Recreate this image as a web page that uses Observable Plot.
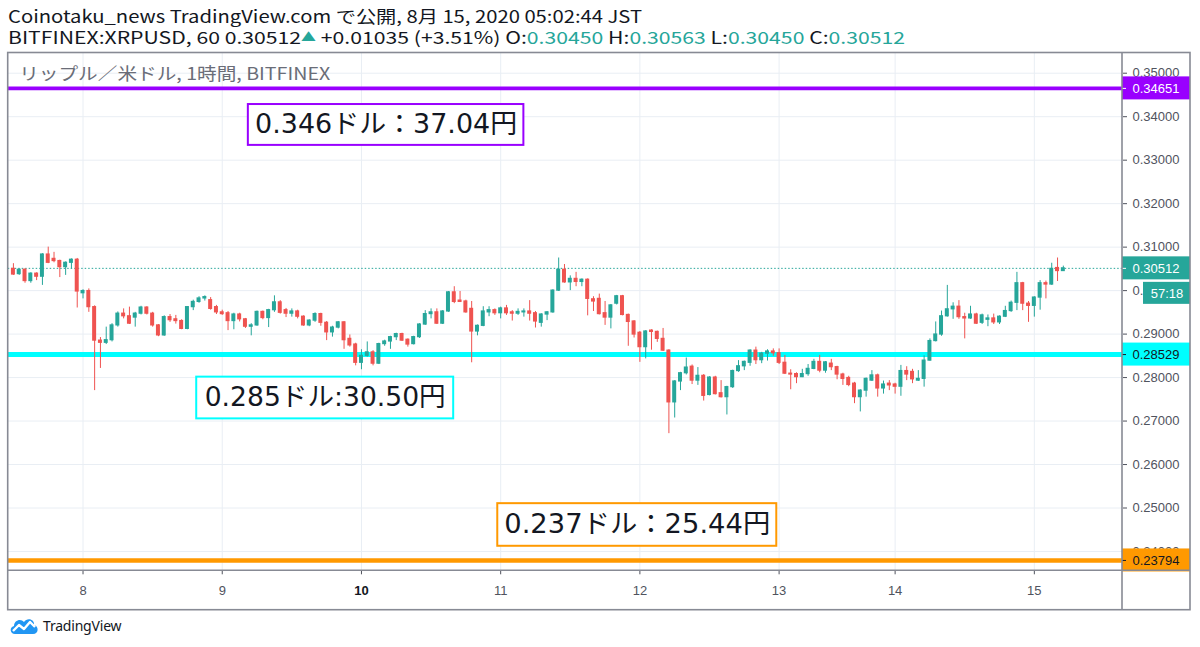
<!DOCTYPE html>
<html>
<head>
<meta charset="utf-8">
<script src="https://cdn.jsdelivr.net/npm/d3@7"></script>
<script src="https://cdn.jsdelivr.net/npm/@observablehq/plot@0.6"></script>
<style>
  html, body { margin: 0; padding: 0; background: #ffffff; }
  body { width: 1200px; height: 647px; overflow: hidden; position: relative;
         font-family: "Noto Sans CJK JP", "Noto Sans", sans-serif; color: #131722; }
  .hdr { position: absolute; left: 8px; white-space: nowrap; font-size: 17px; line-height: 17px;
         transform-origin: 0 50%; display: inline-block; }
  .g { color: #26a69a; }
  .tri { color: #26a69a; font-size: 12px; vertical-align: 2px; }
  #chart { position: absolute; left: 0; top: 50px; }
  #footer { position: absolute; left: 8px; top: 615px; display: flex; align-items: center; }
  #footer span { font-family: "Noto Sans", sans-serif; font-size: 14px; color: #131722; margin-left: 3px; letter-spacing: -0.2px; }
</style>
</head>
<body>
<div id="h1" class="hdr" style="top:7px"></div>
<div id="h2" class="hdr" style="top:28px"></div>
<div id="chart"></div>
<div id="footer">
  <svg width="32" height="20" viewBox="0 0 32 20">
    <path d="M7 19 C2 19 1 12 6 11 C6 5 13 3 16 7 C19 2 27 4 26 10 C31 11 31 19 25 19 Z" fill="#2196f3"/>
    <polyline points="5,16 11,10 16,14 22,7 27,12" stroke="#ffffff" stroke-width="2.4" fill="none" stroke-linejoin="round"/>
  </svg>
  <span>TradingView</span>
</div>
<script>
// ---------- data (hourly candles, BITFINEX:XRPUSD, JST) ----------
const opens = [
0.3050,0.3038,0.3048,0.3022,0.3039,0.3032,0.3083,0.3073,0.3068,0.3054,0.3064,0.3071,0.2994,0.2999,0.2962,0.2885,0.2880,0.2886,0.2920,0.2947,
0.2941,0.2938,0.2947,0.2961,0.2947,0.2920,0.2897,0.2939,0.2934,0.2930,0.2912,0.2962,0.2974,0.2982,0.2978,0.2962,0.2950,0.2948,0.2930,0.2945,
0.2934,0.2917,0.2920,0.2951,0.2937,0.2955,0.2973,0.2955,0.2947,0.2952,0.2940,0.2920,0.2931,0.2946,0.2926,0.2904,0.2915,0.2927,0.2889,0.2876,
0.2834,0.2850,0.2858,0.2832,0.2877,0.2883,0.2893,0.2900,0.2887,0.2877,0.2893,0.2922,0.2946,0.2950,0.2924,0.2952,0.2996,0.2977,0.2975,0.2958,
0.2906,0.2919,0.2950,0.2955,0.2948,0.2959,0.2950,0.2947,0.2950,0.2952,0.2948,0.2926,0.2945,0.2950,0.3000,0.3048,0.3019,0.3027,0.3020,0.3025,
0.2980,0.2981,0.2948,0.2938,0.2970,0.2987,0.2944,0.2929,0.2903,0.2870,0.2908,0.2905,0.2889,0.2862,0.2743,0.2791,0.2810,0.2825,0.2793,0.2804,
0.2760,0.2800,0.2764,0.2755,0.2778,0.2815,0.2826,0.2834,0.2862,0.2840,0.2855,0.2860,0.2856,0.2834,0.2809,0.2808,0.2801,0.2808,0.2820,0.2836,
0.2816,0.2832,0.2824,0.2807,0.2799,0.2786,0.2755,0.2770,0.2793,0.2805,0.2775,0.2786,0.2784,0.2779,0.2815,0.2813,0.2793,0.2797,0.2839,0.2884,
0.2899,0.2941,0.2957,0.2963,0.2939,0.2936,0.2945,0.2926,0.2933,0.2936,0.2927,0.2940,0.2953,0.2972,0.3017,0.2970,0.2965,0.2984,0.3017,0.3014,
0.3052,0.30450];
const highs = [
0.3062,0.3050,0.3050,0.3041,0.3041,0.3085,0.3100,0.3088,0.3070,0.3066,0.3073,0.3074,0.3002,0.3004,0.2965,0.2892,0.2916,0.2924,0.2951,0.2958,
0.2962,0.2950,0.2964,0.2963,0.2950,0.2922,0.2942,0.2945,0.2943,0.2933,0.2963,0.2978,0.2986,0.2988,0.2984,0.2966,0.2955,0.2952,0.2948,0.2948,
0.2936,0.2924,0.2953,0.2953,0.2957,0.2988,0.2977,0.2959,0.2958,0.2955,0.2942,0.2933,0.2949,0.2948,0.2929,0.2918,0.2929,0.2929,0.2898,0.2879,
0.2864,0.2882,0.2862,0.2879,0.2886,0.2895,0.2902,0.2902,0.2889,0.2895,0.2924,0.2954,0.2958,0.2958,0.2954,0.2998,0.3009,0.2998,0.2978,0.2975,
0.2921,0.2963,0.2963,0.2958,0.2962,0.2966,0.2954,0.2958,0.2958,0.2977,0.2952,0.2947,0.2952,0.3002,0.3075,0.3060,0.3034,0.3042,0.3027,0.3027,
0.2986,0.2992,0.2975,0.2968,0.2989,0.2989,0.2946,0.2931,0.2906,0.2908,0.2910,0.2907,0.2913,0.2864,0.2793,0.2812,0.2845,0.2829,0.2823,0.2807,
0.2802,0.2803,0.2793,0.2780,0.2817,0.2839,0.2838,0.2864,0.2870,0.2858,0.2864,0.2866,0.2866,0.2851,0.2818,0.2811,0.2819,0.2830,0.2842,0.2851,
0.2837,0.2842,0.2826,0.2810,0.2803,0.2789,0.2772,0.2799,0.2816,0.2808,0.2792,0.2793,0.2787,0.2828,0.2825,0.2819,0.2816,0.2850,0.2889,0.2928,
0.2953,0.3012,0.2972,0.2977,0.2948,0.2964,0.2948,0.2946,0.2944,0.2946,0.2942,0.2964,0.2976,0.3042,0.3019,0.2975,0.2986,0.3023,0.3022,0.3063,
0.3075,0.30563];
const lows = [
0.3035,0.3035,0.3017,0.3017,0.3023,0.3012,0.3062,0.3064,0.3030,0.3035,0.3050,0.2960,0.2981,0.2950,0.2770,0.2821,0.2876,0.2882,0.2916,0.2935,
0.2922,0.2916,0.2944,0.2944,0.2916,0.2894,0.2895,0.2927,0.2923,0.2910,0.2910,0.2954,0.2971,0.2976,0.2955,0.2945,0.2943,0.2908,0.2910,0.2928,
0.2913,0.2896,0.2918,0.2933,0.2915,0.2950,0.2946,0.2938,0.2939,0.2935,0.2918,0.2917,0.2927,0.2918,0.2885,0.2893,0.2912,0.2865,0.2870,0.2827,
0.2818,0.2847,0.2827,0.2830,0.2872,0.2865,0.2885,0.2883,0.2870,0.2875,0.2890,0.2920,0.2935,0.2922,0.2922,0.2950,0.2970,0.2973,0.2948,0.2834,
0.2896,0.2917,0.2940,0.2943,0.2935,0.2943,0.2930,0.2943,0.2939,0.2930,0.2914,0.2916,0.2931,0.2948,0.2998,0.3017,0.3000,0.3009,0.3009,0.2942,
0.2952,0.2944,0.2920,0.2912,0.2967,0.2942,0.2872,0.2891,0.2835,0.2843,0.2863,0.2881,0.2860,0.2671,0.2707,0.2770,0.2806,0.2784,0.2782,0.2746,
0.2758,0.2760,0.2753,0.2714,0.2775,0.2812,0.2816,0.2826,0.2830,0.2832,0.2838,0.2849,0.2830,0.2807,0.2772,0.2786,0.2800,0.2803,0.2818,0.2811,
0.2810,0.2816,0.2795,0.2782,0.2779,0.2740,0.2721,0.2755,0.2791,0.2755,0.2762,0.2770,0.2762,0.2757,0.2793,0.2786,0.2791,0.2778,0.2838,0.2882,
0.2895,0.2939,0.2934,0.2934,0.2889,0.2934,0.2922,0.2922,0.2917,0.2922,0.2922,0.2938,0.2950,0.2954,0.2954,0.2927,0.2939,0.2955,0.2981,0.3012,
0.3021,0.30450];
const closes = [
0.3037,0.3048,0.3022,0.3039,0.3032,0.3083,0.3064,0.3068,0.3054,0.3064,0.3071,0.2998,0.2999,0.2962,0.2885,0.2880,0.2886,0.2920,0.2947,0.2941,
0.2924,0.2947,0.2961,0.2947,0.2920,0.2897,0.2939,0.2932,0.2930,0.2912,0.2962,0.2974,0.2982,0.2985,0.2958,0.2950,0.2946,0.2930,0.2945,0.2934,
0.2917,0.2920,0.2951,0.2937,0.2955,0.2973,0.2949,0.2947,0.2952,0.2940,0.2920,0.2931,0.2946,0.2926,0.2904,0.2915,0.2927,0.2886,0.2874,0.2834,
0.2850,0.2858,0.2832,0.2877,0.2883,0.2893,0.2900,0.2885,0.2876,0.2893,0.2922,0.2946,0.2950,0.2924,0.2952,0.2996,0.2974,0.2974,0.2950,0.2906,
0.2919,0.2952,0.2955,0.2948,0.2959,0.2948,0.2947,0.2951,0.2952,0.2947,0.2929,0.2945,0.2950,0.3000,0.3048,0.3019,0.3027,0.3020,0.3025,0.2981,
0.2975,0.2946,0.2938,0.2966,0.2987,0.2944,0.2928,0.2899,0.2870,0.2906,0.2905,0.2889,0.2862,0.2743,0.2791,0.2810,0.2823,0.2793,0.2804,0.2758,
0.2800,0.2762,0.2755,0.2778,0.2815,0.2826,0.2836,0.2862,0.2840,0.2855,0.2860,0.2856,0.2834,0.2809,0.2807,0.2801,0.2808,0.2820,0.2836,0.2816,
0.2835,0.2824,0.2807,0.2797,0.2783,0.2755,0.2770,0.2797,0.2805,0.2775,0.2784,0.2782,0.2779,0.2815,0.2807,0.2796,0.2797,0.2839,0.2884,0.2899,
0.2941,0.2957,0.2963,0.2939,0.2936,0.2945,0.2924,0.2943,0.2936,0.2927,0.2940,0.2953,0.2972,0.3017,0.2970,0.2965,0.2984,0.3017,0.3014,0.3050,
0.3045,0.30512];

const dayLabels = ["8", "9", "10", "11", "12", "13", "14", "15"];
const dayStartIndex = [12, 36, 60, 84, 108, 132, 152, 176];
const boldDay = "10";
const priceTicks = [0.24, 0.25, 0.26, 0.27, 0.28, 0.29, 0.30, 0.31, 0.32, 0.33, 0.34, 0.35];

const levelPrices = [0.34651, 0.28529, 0.23794];
const levelColors = ["#9900ff", "#00ffff", "#ff9900"];
const levelLabelTextColors = ["#ffffff", "#131722", "#131722"];

const noteTexts = ["0.346ドル：37.04円", "0.285ドル:30.50円", "0.237ドル：25.44円"];
const noteColors = ["#9900ff", "#00ffff", "#ff9900"];
const noteX1 = [40.5, 31.6, 83.5];
const noteX2 = [88.0, 75.9, 131.6];
const noteTop = [0.3428, 0.2801, 0.2510];
const noteBottom = [0.3334, 0.2705, 0.2412];

const symbolText = "BITFINEX:XRPUSD, 60";
const changeText = "+0.01035 (+3.51%)";
const publishText = "Coinotaku_news TradingView.com で公開, 8月 15, 2020 05:02:44 JST";
const paneTitle = "リップル／米ドル, 1時間, BITFINEX";
const countdownText = "57:18";

// ---------- styles ----------
const UP = "#26a69a", DOWN = "#ef5350";
const GRID = "#e9eef4", AXIS_TEXT = "#50535e", FRAME = "#878a94";
const levelWidths = [3.6, 5, 4.6];
const noteTextWidths = [262, 241, 266];

// ---------- header ----------
const n = closes.length - 1;
const f5 = d3.format(".5f");
document.getElementById("h1").textContent = publishText;
document.getElementById("h2").innerHTML =
  `${symbolText} ${f5(closes[n])}<span class="tri">▲</span> ${changeText} O:<span class="g">${f5(opens[n])}</span> H:<span class="g">${f5(highs[n])}</span> L:<span class="g">${f5(lows[n])}</span> C:<span class="g">${f5(closes[n])}</span>`;

// ---------- chart ----------
const candles = opens.map((o, i) => ({i, o, h: highs[i], l: lows[i], c: closes[i]}));
const isUp = d => d.c >= d.o;
const days = dayLabels.map((label, k) => ({label, i: dayStartIndex[k]}));
const levels = levelPrices.map((price, k) => ({price, color: levelColors[k], width: levelWidths[k], tcolor: levelLabelTextColors[k]}));
const notes = noteTexts.map((text, k) => ({text, color: noteColors[k], x1: noteX1[k], x2: noteX2[k], y1: noteTop[k], y2: noteBottom[k], w: noteTextWidths[k]}));
const lastPrice = closes[n];
const axisBoxes = [
  {price: levelPrices[0], fill: levelColors[0], tcolor: levelLabelTextColors[0]},
  {price: lastPrice, fill: UP, tcolor: "#ffffff"},
  {price: levelPrices[1], fill: levelColors[1], tcolor: levelLabelTextColors[1]},
  {price: levelPrices[2], fill: levelColors[2], tcolor: levelLabelTextColors[2]}
];

const W = 1200, H = 562;
const mTop = 2.5, mBottom = 41.7, mLeft = 7.7, mRight = 78;
const xDomain = [-0.9, 191.2];
const xMax = xDomain[1];

const chart = Plot.plot({
  width: W, height: H,
  marginTop: mTop, marginBottom: mBottom, marginLeft: mLeft, marginRight: mRight,
  x: {domain: xDomain},
  y: {domain: [0.23556, 0.35465]},
  color: {type: "identity"},
  style: {fontFamily: "'Liberation Sans', Arial, sans-serif", fontSize: "13px", background: "#ffffff", overflow: "visible"},
  marks: [
    Plot.gridY(priceTicks, {stroke: GRID, strokeOpacity: 1, strokeWidth: 1}),
    Plot.gridX(dayStartIndex, {stroke: GRID, strokeOpacity: 1, strokeWidth: 1}),
    Plot.text([paneTitle], {frameAnchor: "top-left", dx: 11, dy: 22, lineAnchor: "middle", textAnchor: "start",
      fontSize: 17, fill: "#6a6d78", fontFamily: "'Noto Sans CJK JP', sans-serif"}),
    Plot.ruleY(levels, {y: "price", stroke: "color", strokeWidth: "width"}),
    Plot.ruleY([lastPrice], {stroke: UP, strokeDasharray: "1.5,2", strokeWidth: 1}),
    Plot.ruleX(candles, {x: "i", y1: "l", y2: "h", stroke: d => isUp(d) ? UP : DOWN, strokeWidth: 1}),
    Plot.rect(candles, {x1: "i", x2: "i", y1: d => Math.min(d.o, d.c), y2: d => Math.max(d.o, d.c),
      fill: d => isUp(d) ? UP : DOWN, insetLeft: -2, insetRight: -2, insetTop: -0.6, insetBottom: -0.6}),
    Plot.rect(notes, {x1: "x1", x2: "x2", y1: "y1", y2: "y2", fill: "#ffffff", stroke: "color", strokeWidth: 2}),
    Plot.text(notes, {x: d => (d.x1 + d.x2) / 2, y: d => (d.y1 + d.y2) / 2, text: "text", fontSize: 26, fill: "#131722",
      fontFamily: "'DejaVu Sans', 'Noto Sans CJK JP', sans-serif"}),
    Plot.axisY(priceTicks, {anchor: "right", tickSize: 4, tickPadding: 6, tickFormat: f5, fontSize: 13, color: AXIS_TEXT, label: null}),
    Plot.axisX(dayStartIndex, {anchor: "bottom", tickSize: 4, tickFormat: () => "", color: AXIS_TEXT, label: null}),
    Plot.text(days.filter(d => d.label !== boldDay), {x: "i", text: "label", frameAnchor: "bottom", dy: 20, lineAnchor: "middle",
      fill: AXIS_TEXT, fontSize: 13}),
    Plot.text(days.filter(d => d.label === boldDay), {x: "i", text: "label", frameAnchor: "bottom", dy: 20, lineAnchor: "middle",
      fill: "#131722", fontSize: 13, fontWeight: "bold"}),
    // price-axis labels for levels and last price
    Plot.rect(axisBoxes, {x1: () => xMax, x2: () => xMax, y1: "price", y2: "price", fill: "fill",
      insetLeft: 0, insetRight: -68, insetTop: -11.5, insetBottom: -11.5}),
    Plot.ruleY(axisBoxes, {y: "price", x1: () => xMax, x2: () => xMax, insetRight: -4, stroke: "tcolor", strokeWidth: 1}),
    Plot.text(axisBoxes, {y: "price", frameAnchor: "right", dx: 10, textAnchor: "start", text: d => f5(d.price), fill: "tcolor", fontSize: 13}),
    Plot.rect([lastPrice], {x1: () => xMax, x2: () => xMax, y1: d => d, y2: d => d, fill: UP,
      insetLeft: 21, insetRight: -68, insetTop: 14, insetBottom: -36}),
    Plot.text([lastPrice], {y: d => d, frameAnchor: "right", dx: 44.5, dy: 25, textAnchor: "middle", text: () => countdownText, fill: "#ffffff", fontSize: 13})
  ]
});
document.getElementById("chart").appendChild(chart);

// frame of the chart pane, price scale and time scale
const svg = d3.select(chart);
const fx0 = mLeft, fy0 = mTop, fx1 = W - mRight, fy1 = H - mBottom, ox1 = 1190, oy1 = 559.7;
const g = svg.append("g").attr("fill", "none").attr("stroke", FRAME).attr("stroke-width", 1.6);
g.append("rect").attr("x", fx0).attr("y", fy0).attr("width", ox1 - fx0).attr("height", oy1 - fy0);
g.append("line").attr("x1", fx1).attr("x2", fx1).attr("y1", fy0).attr("y2", oy1);
g.append("line").attr("x1", fx0).attr("x2", ox1).attr("y1", fy1).attr("y2", fy1);

// fit text widths to the reference
svg.selectAll("text").each(function() {
  const t = this.textContent;
  if (t === paneTitle) { this.setAttribute("textLength", 311); this.setAttribute("lengthAdjust", "spacingAndGlyphs"); }
  const k = noteTexts.indexOf(t);
  if (k >= 0) { this.setAttribute("textLength", noteTextWidths[k]); this.setAttribute("lengthAdjust", "spacingAndGlyphs"); }
});
function fit(id, target) {
  const el = document.getElementById(id);
  const w = el.getBoundingClientRect().width;
  if (w > 0) el.style.transform = `scaleX(${target / w})`;
}
fit("h1", 634);
fit("h2", 897);
</script>
</body>
</html>
